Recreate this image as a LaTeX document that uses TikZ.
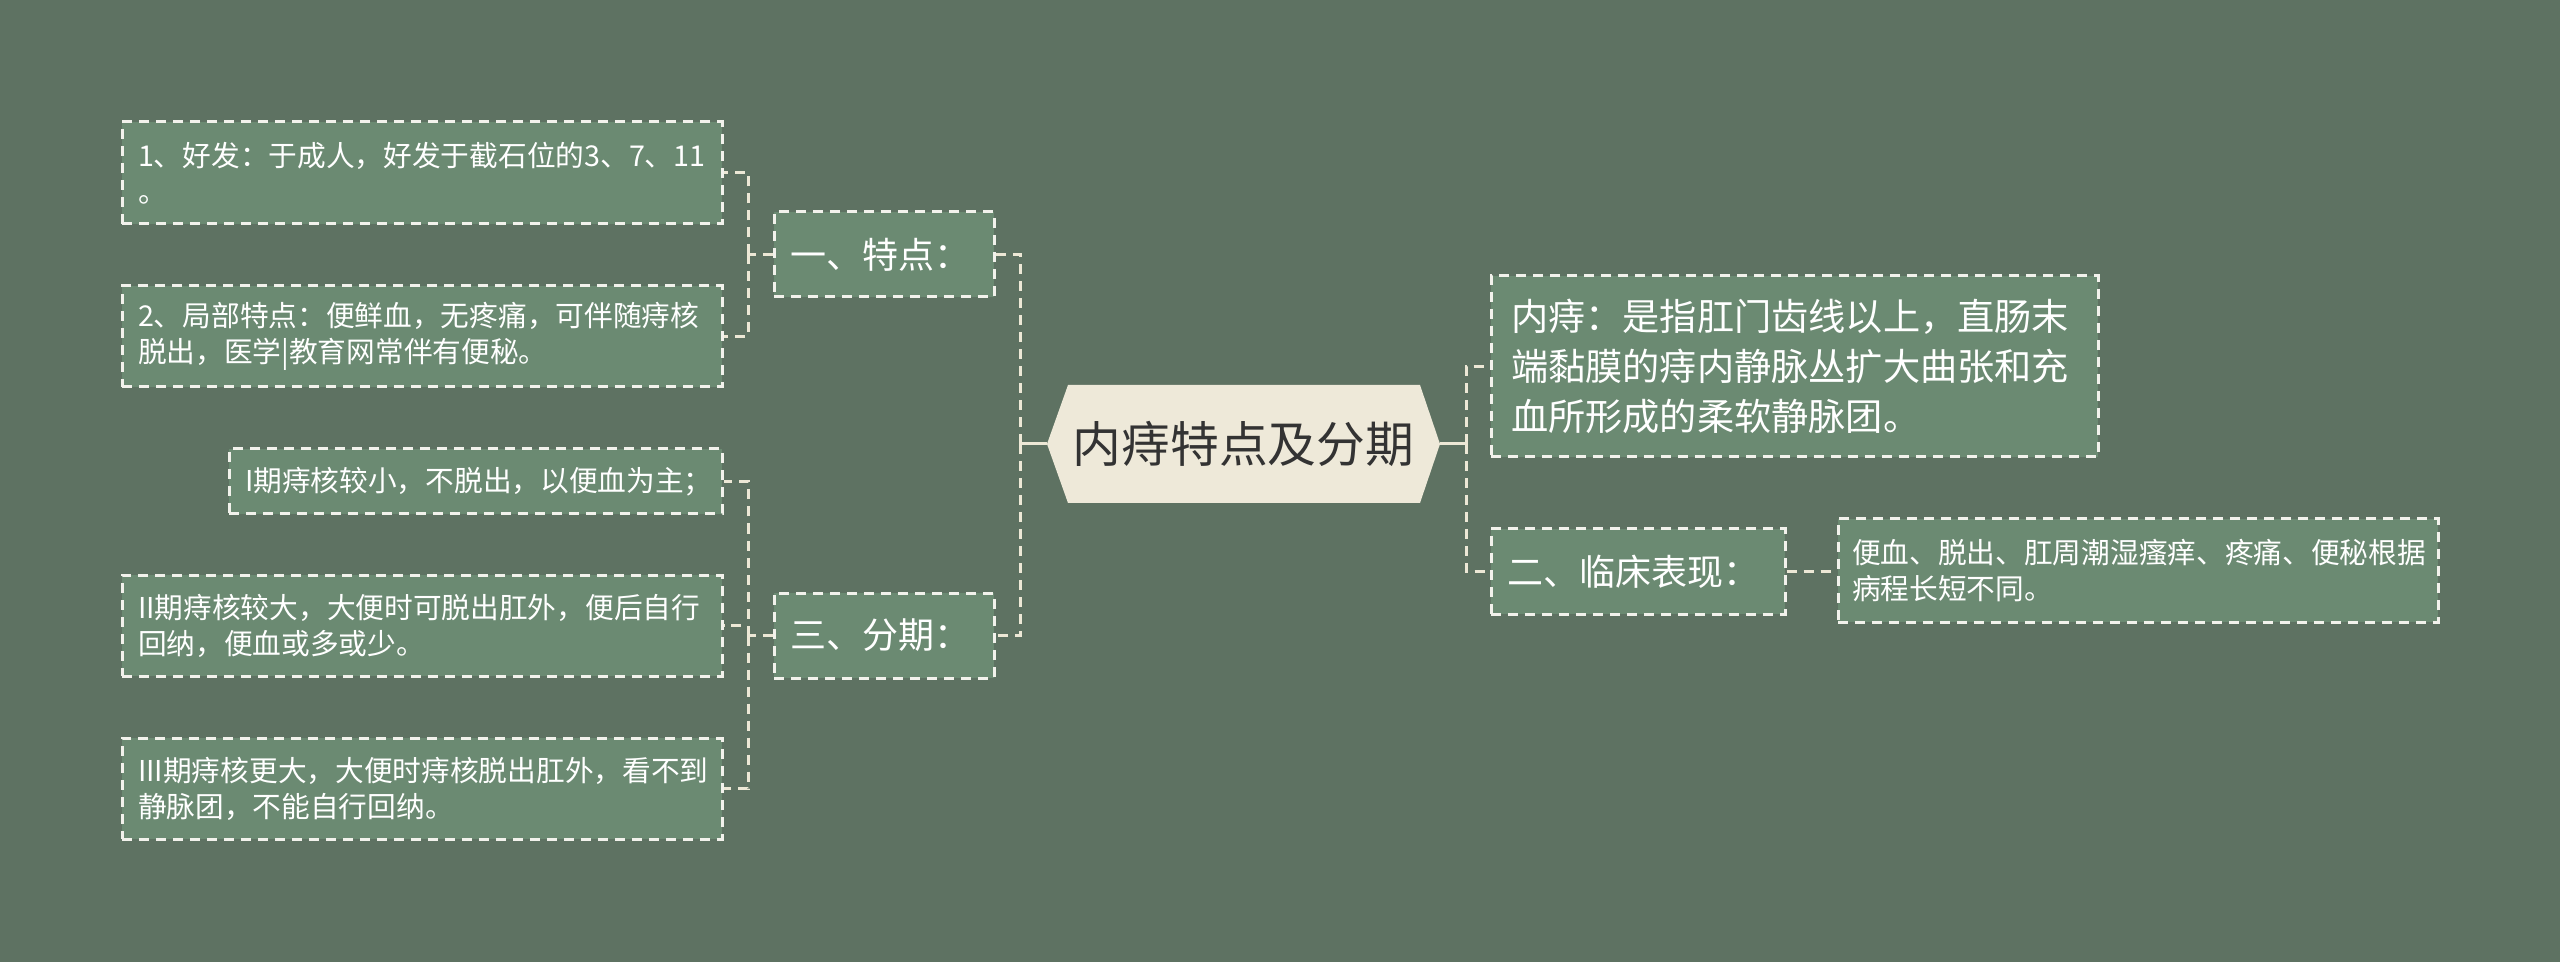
\documentclass[tikz,border=0pt]{standalone}
\usepackage{fontspec}
\newfontfamily\cjk{Noto Sans CJK SC}
\definecolor{bg}{HTML}{5E7262}
\definecolor{boxfill}{HTML}{6B8A72}
\definecolor{boxline}{HTML}{F2F2EC}
\definecolor{conncol}{HTML}{EDE8D6}
\definecolor{rootfill}{HTML}{EEE9D9}
\definecolor{roottext}{HTML}{333333}
\tikzset{
  leafbox/.style={draw=boxline, fill=boxfill, line width=1.5pt, dash pattern=on 5pt off 3.5pt,
    text=white, align=left, inner xsep=8pt, inner ysep=0pt, anchor=center,
    font=\cjk\fontsize{14.35pt}{18pt}\selectfont},
  topicbox/.style={leafbox, font=\cjk\fontsize{18pt}{25pt}\selectfont},
  conn/.style={draw=conncol, line width=1.5pt, dash pattern=on 5pt off 3.5pt},
  solidconn/.style={draw=conncol, line width=1.5pt}
}
\begin{document}
\begin{tikzpicture}[x=0.5pt,y=-0.5pt]
\path[fill=bg] (0,0) rectangle (2560,962);
\useasboundingbox (0,0) rectangle (2560,962);

% root hexagon
\coordinate (rootW) at (1047,444);
\coordinate (rootE) at (1440,444);
\path[fill=rootfill] (rootW) -- (1068,385) -- (1420,385) -- (rootE) -- (1420,503) -- (1068,503) -- cycle;
\node[text=roottext, font=\cjk\fontsize{24.4pt}{28pt}\selectfont] (root) at (1243.5,444) {内痔特点及分期};

% left side
\node[topicbox, text width=94pt, minimum height=42.5pt] (t1) at (884,254.5) {一、特点：};
\node[topicbox, text width=94pt, minimum height=42.5pt] (t3) at (884,635.5) {三、分期：};

\node[leafbox, text width=284pt, minimum height=51pt] (a) at (422,173) {1、好发：于成人，好发于截石位的3、7、11\\。};
\node[leafbox, text width=284pt, minimum height=50.5pt] (b) at (422,336.5) {2、局部特点：便鲜血，无疼痛，可伴随痔核\\脱出，医学|教育网常伴有便秘。};

\node[leafbox, text width=230.5pt, minimum height=32.5pt] (s1) at (475.5,481.5) {I期痔核较小，不脱出，以便血为主；};
\node[leafbox, text width=284pt, minimum height=50.5pt] (s2) at (422,625.5) {II期痔核较大，大便时可脱出肛外，便后自行\\回纳，便血或多或少。};
\node[leafbox, text width=284pt, minimum height=50.5pt] (s3) at (422,788.5) {III期痔核更大，大便时痔核脱出肛外，看不到\\静脉团，不能自行回纳。};

% right side
\node[topicbox, inner xsep=10pt, text width=283.5pt, minimum height=90.5pt, font=\cjk\fontsize{18.6pt}{25pt}\selectfont] (n) at (1794.5,366.5) {内痔：是指肛门齿线以上，直肠末\\端黏膜的痔内静脉丛扩大曲张和充\\血所形成的柔软静脉团。};
\node[topicbox, text width=131pt, minimum height=42.5pt] (t2) at (1638,571.5) {二、临床表现：};
\node[leafbox, inner xsep=7pt, text width=286pt, minimum height=51.5pt] (c) at (2138,570.5) {便血、脱出、肛周潮湿瘙痒、疼痛、便秘根据\\病程长短不同。};

% connectors
\coordinate (lj) at (1020,444);
\coordinate (rj) at (1466,444);
\coordinate (j1) at (748,254.5);
\coordinate (j3) at (748,635.5);

\draw[solidconn] (rootW) -- (lj);
\draw[conn] (lj) |- (t1.east);
\draw[conn] (lj) |- (t3.east);

\draw[conn] (t1.west) -- (j1);
\draw[conn] (j1) |- (a.east);
\draw[conn] (j1) |- (b.east);

\draw[conn] (t3.west) -- (j3);
\draw[conn] (j3) |- (s1.east);
\draw[conn] (j3) |- (s2.east);
\draw[conn] (j3) |- (s3.east);

\draw[solidconn] (rootE) -- (rj);
\draw[conn] (rj) |- (n.west);
\draw[conn] (rj) |- (t2.west);
\draw[conn] (t2.east) -- (c.west |- t2.east);
\end{tikzpicture}
\end{document}
